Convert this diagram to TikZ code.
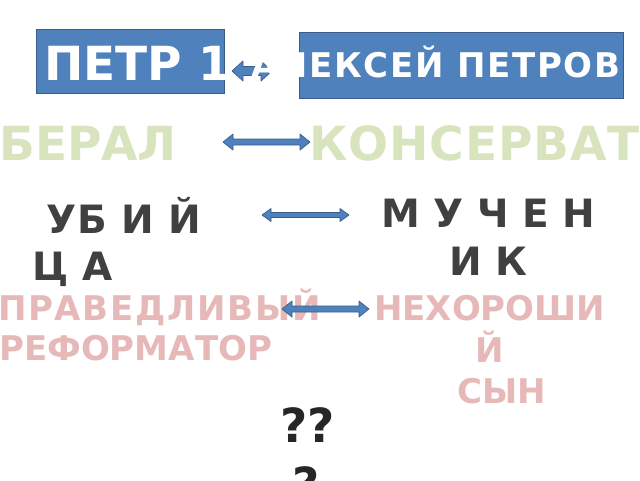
\documentclass[tikz,border=0pt]{standalone}
\usepackage{fontspec}
\setmainfont{DejaVu Sans}
\newfontfamily\dvb{DejaVu Sans}
\newfontfamily\dvc{DejaVu Sans}[LetterSpace=5]
\newfontfamily\dvd{DejaVu Sans}[LetterSpace=5]
\newfontfamily\dve{DejaVu Sans}[LetterSpace=2]
\usetikzlibrary{calc}
\definecolor{blu}{HTML}{4F81BD}
\definecolor{bord}{HTML}{385D8A}
\definecolor{grn}{HTML}{D7E4BD}
\definecolor{pnk}{HTML}{E6B9B8}
\definecolor{drk}{HTML}{404040}
\definecolor{qdrk}{HTML}{262626}
\newcommand\lrarr[5]{\filldraw[arr] (#1) -- ($(#1)+(#5,-#3)$) -- ($(#1)+(#5,-#4)$) -- ($(#2)+(-#5,-#4)$) -- ($(#2)+(-#5,-#3)$) -- (#2) -- ($(#2)+(-#5,#3)$) -- ($(#2)+(-#5,#4)$) -- ($(#1)+(#5,#4)$) -- ($(#1)+(#5,#3)$) -- cycle;}
\tikzset{
  box/.style={draw=bord, fill=blu, line width=0.8pt, inner sep=0pt},
  arr/.style={draw=bord, fill=blu, line width=0.7pt, line join=round},
  lbl/.style={inner sep=0pt, anchor=base west},
  lblc/.style={inner sep=0pt, anchor=base},
  big/.style={font=\dvb\bfseries\fontsize{47}{47}\selectfont},
  bigw/.style={font=\dve\bfseries\fontsize{47}{47}\selectfont},
  med/.style={font=\dvb\bfseries\fontsize{34}{34}\selectfont},
  medw/.style={font=\dvd\bfseries\fontsize{34}{34}\selectfont},
  boxt/.style={font=\dvc\bfseries\fontsize{34}{34}\selectfont},
  mid/.style={font=\dvb\bfseries\fontsize{39}{39}\selectfont},
  midw/.style={font=\dve\bfseries\fontsize{39}{39}\selectfont},
  qst/.style={font=\dvb\bfseries\fontsize{47}{47}\selectfont, text=qdrk},
}
\begin{document}
\begin{tikzpicture}[x=1pt,y=-1pt]
\useasboundingbox (0,0) rectangle (640,480);
\clip (0,0) rectangle (640,480);
\fill[white] (0,0) rectangle (640,480);
% row 1
\node[box, minimum width=188pt, minimum height=64pt] (box1) at (130,61) {};
\node[box, minimum width=324pt, minimum height=66pt] (box2) at (461,65) {};
\node[lbl, big, text=white] (petr) at (44,80) {ПЕТР 1};
\coordinate (a1l) at (232,71);
\coordinate (a1r) at (272,71);
\lrarr{a1l}{a1r}{10}{4.5}{11}
\node[lbl, boxt, text=white] (alexey) at (251,77) {АЛЕКСЕЙ ПЕТРОВИЧ};
% row 2
\node[lbl, big, text=grn] (lib) at (-1,160) {БЕРАЛ};
\node[lbl, bigw, text=grn] (kons) at (309,160) {КОНСЕРВАТ};
\coordinate (a2l) at (223,142);
\coordinate (a2r) at (310,142);
\lrarr{a2l}{a2r}{8}{3}{10}
% row 3
\node[lbl, midw, text=drk] (ub1) at (46,233) {УБ И Й};
\node[lbl, midw, text=drk] (ub2) at (32,280) {Ц А};
\node[lbl, mid, text=drk] (mu1) at (381,227) {М У Ч Е Н};
\node[lbl, mid, text=drk] (mu2) at (449,275) {И К};
\coordinate (a3l) at (262,215);
\coordinate (a3r) at (349,215);
\lrarr{a3l}{a3r}{6.5}{2.5}{9}
% row 4
\node[lbl, medw, text=pnk] (spr) at (-2,320) {ПРАВЕДЛИВЫЙ};
\node[lbl, med, text=pnk] (ref) at (-1,360) {РЕФОРМАТОР};
\node[lbl, med, text=pnk] (neh1) at (374,320) {НЕХОРОШИ};
\node[lblc, med, text=pnk] (neh2) at (490,362) {Й};
\node[lblc, med, text=pnk] (neh3) at (502,403) {СЫН};
\coordinate (a4l) at (282,309);
\coordinate (a4r) at (369,309);
\lrarr{a4l}{a4r}{8}{3}{10}
% question marks
\node[lbl, qst] (q1) at (280,442) {??};
\node[lbl, qst] (q2) at (292,501) {?};
\end{tikzpicture}
\end{document}
